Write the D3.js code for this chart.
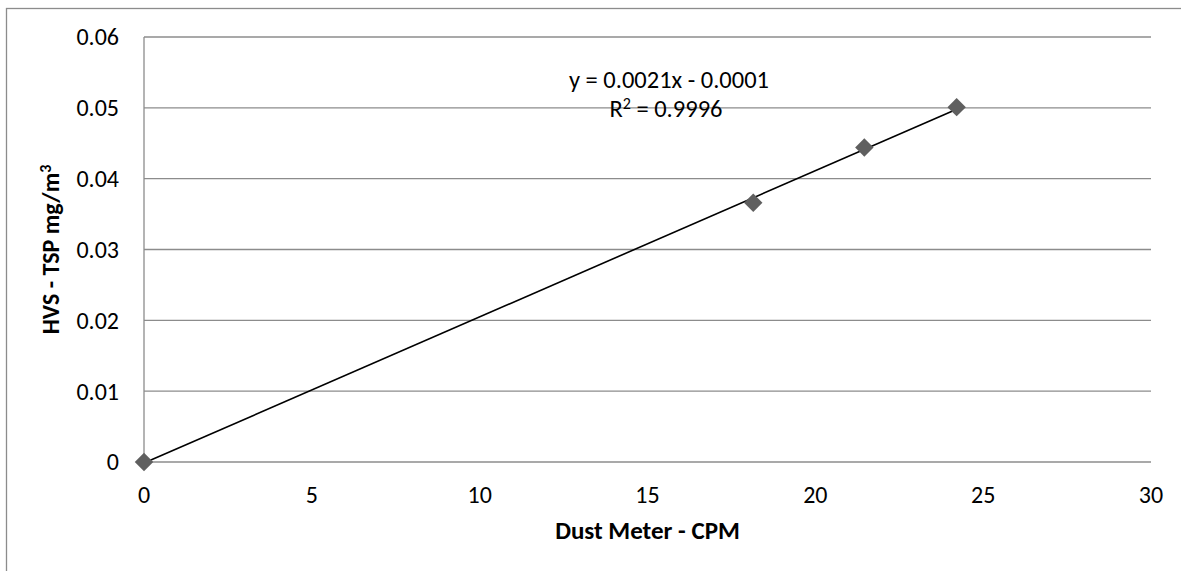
<!DOCTYPE html>
<html>
<head>
<meta charset="utf-8">
<script src="https://cdn.jsdelivr.net/npm/d3@7"></script>
<style>
  html, body { margin: 0; padding: 0; background: #fff; }
  svg { display: block; font-family: Carlito, Lato, "Open Sans", sans-serif; }
</style>
</head>
<body>
<div id="chart"></div>
<script>
// data
const dustCpm = [0, 18.15, 21.46, 24.21];
const hvsTsp = [0, 0.0366, 0.0444, 0.0501];
const xTicks = [0, 5, 10, 15, 20, 25, 30];
const yTicks = [0, 0.01, 0.02, 0.03, 0.04, 0.05, 0.06];
const eqText = "y = 0.0021x - 0.0001";
const r2Text = "0.9996";

const width = 1181;
const height = 571;
const margin = { top: 37, right: 30, bottom: 109, left: 144 };

const svg = d3.select("#chart").append("svg")
  .attr("width", width)
  .attr("height", height);

// outer chart border
svg.append("rect")
  .attr("x", 6.5).attr("y", 8.5)
  .attr("width", width).attr("height", height)
  .attr("fill", "none")
  .attr("stroke", "#8c8c8c")
  .attr("stroke-width", 1.3);

const x = d3.scaleLinear().domain([0, 30]).range([margin.left, width - margin.right]);
const y = d3.scaleLinear().domain([0, 0.06]).range([height - margin.bottom, margin.top]);

// horizontal gridlines
svg.append("g").selectAll("line")
  .data(yTicks)
  .enter().append("line")
  .attr("x1", x(0)).attr("x2", x(30))
  .attr("y1", d => y(d)).attr("y2", d => y(d))
  .attr("stroke", "#8c8c8c")
  .attr("stroke-width", 1.3);

// vertical axis line
svg.append("line")
  .attr("x1", x(0)).attr("x2", x(0))
  .attr("y1", y(0)).attr("y2", y(0.06))
  .attr("stroke", "#8c8c8c")
  .attr("stroke-width", 1.3);

// tick labels
svg.append("g").selectAll("text")
  .data(yTicks)
  .enter().append("text")
  .attr("x", x(0) - 25)
  .attr("y", d => y(d))
  .attr("dy", "0.35em")
  .attr("text-anchor", "end")
  .attr("font-size", 24)
  .attr("fill", "#000")
  .text(d => d3.format("~g")(d));

svg.append("g").selectAll("text")
  .data(xTicks)
  .enter().append("text")
  .attr("x", d => x(d))
  .attr("y", 503)
  .attr("text-anchor", "middle")
  .attr("font-size", 24)
  .attr("fill", "#000")
  .text(d => d);

// axis titles
svg.append("text")
  .attr("x", (x(0) + x(30)) / 2)
  .attr("y", 539)
  .attr("text-anchor", "middle")
  .attr("font-size", 25)
  .attr("font-weight", "bold")
  .text("Dust Meter - CPM");

const yTitle = svg.append("text")
  .attr("transform", `translate(59,${(y(0) + y(0.06)) / 2}) rotate(-90)`)
  .attr("text-anchor", "middle")
  .attr("font-size", 24)
  .attr("font-weight", "bold");
yTitle.append("tspan").text("HVS -  TSP mg/m");
yTitle.append("tspan").attr("font-size", 16).attr("dy", -8).text("3");

// linear trendline over the data range
const n = dustCpm.length;
const mx = d3.mean(dustCpm), my = d3.mean(hvsTsp);
let sxy = 0, sxx = 0;
for (let i = 0; i < n; i++) {
  sxy += (dustCpm[i] - mx) * (hvsTsp[i] - my);
  sxx += (dustCpm[i] - mx) ** 2;
}
const slope = sxy / sxx;
const intercept = my - slope * mx;
const xMin = d3.min(dustCpm), xMax = d3.max(dustCpm);

svg.append("line")
  .attr("x1", x(xMin)).attr("y1", y(slope * xMin + intercept))
  .attr("x2", x(xMax)).attr("y2", y(slope * xMax + intercept))
  .attr("stroke", "#000")
  .attr("stroke-width", 1.6);

// diamond markers
const diamond = d3.symbol().type(d3.symbolSquare).size(170);
svg.append("g").selectAll("path")
  .data(dustCpm.map((d, i) => [d, hvsTsp[i]]))
  .enter().append("path")
  .attr("d", diamond)
  .attr("transform", d => `translate(${x(d[0])},${y(d[1])}) rotate(45)`)
  .attr("fill", "#5f5f5f");

// trendline label
svg.append("text")
  .attr("x", 669).attr("y", 88)
  .attr("text-anchor", "middle")
  .attr("font-size", 24.5)
  .text(eqText);

const r2 = svg.append("text")
  .attr("x", 666).attr("y", 117)
  .attr("text-anchor", "middle")
  .attr("font-size", 24.5);
r2.append("tspan").text("R");
r2.append("tspan").attr("font-size", 16).attr("dy", -8).text("2");
r2.append("tspan").attr("dy", 8).text(" = " + r2Text);
</script>
</body>
</html>
